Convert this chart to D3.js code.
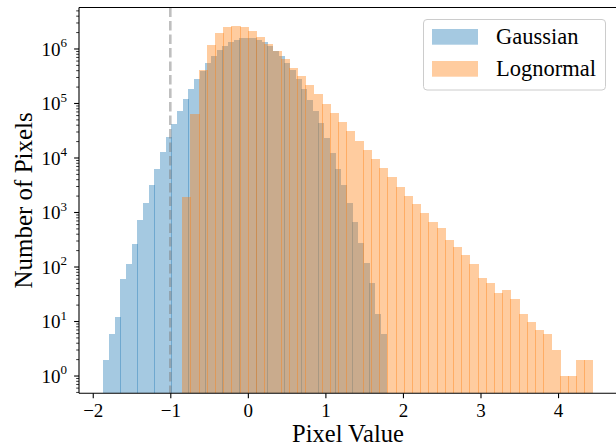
<!DOCTYPE html>
<html>
<head>
<meta charset="utf-8">
<script src="https://cdn.jsdelivr.net/npm/d3@7"></script>
<style>
  html, body { margin: 0; padding: 0; background: #fff; }
  svg { display: block; }
  text { font-family: "Liberation Serif", "Times New Roman", serif; fill: #000; }
</style>
</head>
<body>
<svg id="chart" width="616" height="447"></svg>
<script>
// ---------------- data ----------------
const seriesNames = ["Gaussian", "Lognormal"];
const gaussianRange = [-1.862, 1.785];   // histogram range, 50 bins
const lognormalRange = [-0.846, 4.445];  // histogram range, 50 bins
const gaussianCounts = [
  2, 6, 12, 60, 113, 265, 728, 1494, 3250, 6300,
  12900, 24000, 42000, 73000, 119000, 184000, 276000, 400000, 547000, 740000,
  960000, 1130000, 1340000, 1460000, 1580000, 1580000, 1580000, 1460000, 1340000, 1130000,
  920000, 740000, 560000, 412000, 280000, 184000, 116000, 73000, 43000, 23300,
  12400, 6300, 3200, 1490, 670, 276, 118, 51, 14, 6
];
const lognormalCounts = [
  1950, 64000, 410000, 1180000, 1940000, 2500000, 2640000, 2500000, 2140000, 1660000,
  1240000, 920000, 655000, 443000, 320000, 219000, 149000, 98000, 67000, 46000,
  31000, 20500, 14000, 9600, 6560, 4480, 2940, 2010, 1430, 980,
  670, 520, 313, 233, 166, 113, 63, 51, 34, 38,
  26, 14, 10, 7, 6, 3, 1, 1, 2, 2
];
const xTickValues = [-2, -1, 0, 1, 2, 3, 4];
const yTickExponents = [0, 1, 2, 3, 4, 5, 6];
const referenceLineX = -1;
const xLabel = "Pixel Value";
const yLabel = "Number of Pixels";

// ---------------- layout ----------------
const svg = d3.select("#chart");
const plot = { left: 79, right: 617, top: 7.5, bottom: 393.3 };
const colors = { Gaussian: "#1f77b4", Lognormal: "#ff7f0e" };
const seams = { Gaussian: 0.33, Lognormal: 0.9 };

const xMin = gaussianRange[0], xMax = lognormalRange[1];
const xPad = (xMax - xMin) * 0.05;
const x = d3.scaleLinear().domain([xMin - xPad, xMax + xPad]).range([plot.left, plot.right]);
const y = d3.scaleLog().domain([Math.pow(10, -0.317), Math.pow(10, 6.761)]).range([plot.bottom, plot.top]);

function binsOf(range, counts) {
  const n = counts.length, w = (range[1] - range[0]) / n;
  return counts.map((c, i) => ({ x0: range[0] + i * w, x1: range[0] + (i + 1) * w, count: c }));
}

svg.append("defs").append("clipPath").attr("id", "plotclip")
  .append("rect").attr("x", plot.left).attr("y", plot.top)
  .attr("width", plot.right - plot.left).attr("height", plot.bottom - plot.top);

const gBars = svg.append("g").attr("clip-path", "url(#plotclip)");
[["Gaussian", gaussianRange, gaussianCounts], ["Lognormal", lognormalRange, lognormalCounts]].forEach(([name, range, counts]) => {
  gBars.append("g")
    .selectAll("rect")
    .data(binsOf(range, counts))
    .join("rect")
    .attr("shape-rendering", "crispEdges")
    .attr("x", d => Math.round(x(d.x0)))
    .attr("width", d => Math.round(x(d.x1) + seams[name]) - Math.round(x(d.x0)))
    .attr("y", d => y(d.count))
    .attr("height", d => plot.bottom - y(d.count))
    .attr("fill", colors[name])
    .attr("fill-opacity", 0.4);
});

// dashed reference line
svg.append("line")
  .attr("x1", x(referenceLineX)).attr("x2", x(referenceLineX))
  .attr("y1", plot.top).attr("y2", plot.bottom)
  .attr("stroke", "#808080").attr("stroke-opacity", 0.5)
  .attr("stroke-width", 2.6).attr("stroke-dasharray", "9.5,4");

// ---------------- axes ----------------
const xAxis = d3.axisBottom(x).tickValues(xTickValues).tickSize(4.9).tickPadding(5)
  .tickFormat(d => d < 0 ? "\u2212" + Math.abs(d) : String(d));
const gx = svg.append("g").attr("transform", `translate(0,${plot.bottom})`).call(xAxis);
gx.select(".domain").remove();
gx.selectAll(".tick line").attr("stroke", "#000").attr("stroke-width", 1.1);
gx.selectAll(".tick text").attr("font-size", 19).attr("font-family", "Liberation Serif").attr("dy", "0.72em");

// y axis: major ticks with 10^n labels
const gy = svg.append("g").attr("transform", `translate(${plot.left},0)`);
const majorVals = yTickExponents.map(e => Math.pow(10, e));
gy.selectAll("line.major").data(majorVals).join("line").attr("class", "major")
  .attr("x1", 0).attr("x2", -4.9).attr("y1", d => y(d)).attr("y2", d => y(d))
  .attr("stroke", "#000").attr("stroke-width", 1.1);
// minor ticks
const minorVals = [];
const [ylo, yhi] = y.domain();
for (let e = -1; e <= 7; e++) {
  for (let m = 2; m <= 9; m++) {
    const v = m * Math.pow(10, e);
    if (v >= ylo && v <= yhi) minorVals.push(v);
  }
}
gy.selectAll("line.minor").data(minorVals).join("line").attr("class", "minor")
  .attr("x1", 0).attr("x2", -2.8).attr("y1", d => y(d)).attr("y2", d => y(d))
  .attr("stroke", "#000").attr("stroke-width", 0.8);
const yLabels = gy.selectAll("text.ytl").data(yTickExponents).join("text").attr("class", "ytl")
  .attr("x", -12).attr("y", d => y(Math.pow(10, d)) + 6.8)
  .attr("text-anchor", "end").attr("font-size", 19);
yLabels.append("tspan").text("10");
yLabels.append("tspan").attr("dy", -8.4).attr("font-size", 13).text(d => String(d));

// spines
svg.append("line").attr("x1", plot.left).attr("x2", plot.left).attr("y1", plot.top).attr("y2", plot.bottom)
  .attr("stroke", "#000").attr("stroke-width", 1.1);
svg.append("line").attr("x1", plot.left).attr("x2", plot.right).attr("y1", plot.bottom).attr("y2", plot.bottom)
  .attr("stroke", "#000").attr("stroke-width", 1.1);
svg.append("line").attr("x1", plot.left).attr("x2", plot.right).attr("y1", plot.top).attr("y2", plot.top)
  .attr("stroke", "#000").attr("stroke-width", 1.1);
svg.append("line").attr("x1", plot.right).attr("x2", plot.right).attr("y1", plot.top).attr("y2", plot.bottom)
  .attr("stroke", "#000").attr("stroke-width", 1.1);

// axis labels
svg.append("text").attr("x", (plot.left + plot.right) / 2).attr("y", 442)
  .attr("text-anchor", "middle").attr("font-size", 24.5).text(xLabel);
svg.append("text").attr("transform", `translate(31.5,${(plot.top + plot.bottom) / 2}) rotate(-90)`)
  .attr("text-anchor", "middle").attr("font-size", 25).text(yLabel);

// ---------------- legend ----------------
const legend = svg.append("g");
legend.append("rect").attr("x", 423.5).attr("y", 19.5).attr("width", 182).attr("height", 70.5)
  .attr("rx", 3.5).attr("fill", "#fff").attr("fill-opacity", 0.8)
  .attr("stroke", "#cccccc").attr("stroke-width", 1);
seriesNames.forEach((name, i) => {
  const yy = 29 + i * 32;
  legend.append("rect").attr("x", 432).attr("y", yy).attr("width", 46).attr("height", 15.7)
    .attr("fill", colors[name]).attr("fill-opacity", 0.4);
  legend.append("text").attr("x", 496).attr("y", yy + 15.3).attr("font-size", 22.5).text(name);
});
</script>
</body>
</html>
